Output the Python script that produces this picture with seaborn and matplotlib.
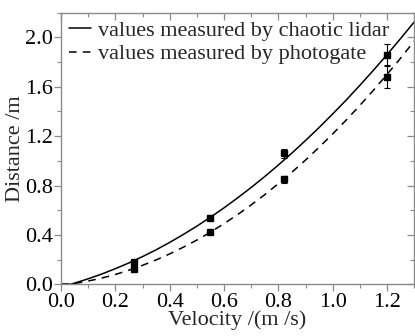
import matplotlib
matplotlib.use("Agg")
import matplotlib.pyplot as plt
import seaborn as sns
import pandas as pd
from matplotlib.ticker import MultipleLocator, FormatStrFormatter

# fitted curves
curve_x = [0.0, 0.035, 0.05, 0.1, 0.15, 0.2, 0.25, 0.3, 0.35, 0.4, 0.45, 0.5, 0.55, 0.6, 0.65,
           0.7, 0.75, 0.8, 0.85, 0.9, 0.95, 1.0, 1.05, 1.1, 1.15, 1.2, 1.25, 1.3]
lidar_curve = [0.0, 0.0, 0.0095, 0.044, 0.083, 0.126, 0.173, 0.224, 0.279, 0.339, 0.403, 0.471,
               0.543, 0.619, 0.700, 0.784, 0.873, 0.966, 1.063, 1.165, 1.270, 1.380, 1.493,
               1.612, 1.734, 1.860, 1.991, 2.125]
photo_curve = [0.0, 0.003, 0.006, 0.026, 0.050, 0.079, 0.114, 0.153, 0.197, 0.246, 0.300, 0.358,
               0.422, 0.491, 0.564, 0.643, 0.726, 0.815, 0.908, 1.006, 1.110, 1.218, 1.331,
               1.449, 1.572, 1.700, 1.832, 1.970]

# measured points
velocity = [0.27, 0.55, 0.82, 1.20]
lidar_pts = [0.18, 0.54, 1.06, 1.86]
lidar_err = [0.02, 0.02, 0.04, 0.085]
photo_pts = [0.12, 0.42, 0.85, 1.68]
photo_err = [0.012, 0.012, 0.03, 0.09]

labels = ["values measured by chaotic lidar", "values measured by photogate"]

sns.set_theme(style="white")
plt.rcParams['font.family'] = ['Liberation Serif', 'DejaVu Serif']

FS = 16
fig = plt.figure(figsize=(4.15, 3.36), dpi=100)
ax = fig.add_axes([0.147, 0.154, 0.851, 0.808])

df_l = pd.DataFrame({"x": curve_x, "y": lidar_curve})
df_p = pd.DataFrame({"x": curve_x, "y": photo_curve})
sns.lineplot(data=df_l, x="x", y="y", ax=ax, color="black", lw=1.1, label=labels[0], sort=False)
sns.lineplot(data=df_p, x="x", y="y", ax=ax, color="black", lw=1.1, label=labels[1],
             linestyle=(0, (5, 4)), sort=False)

ax.errorbar(velocity, lidar_pts, yerr=lidar_err, fmt="s", color="black", ms=3.8,
            elinewidth=0.8, capsize=2.5, capthick=0.8, zorder=5)
ax.errorbar(velocity, photo_pts, yerr=photo_err, fmt="s", color="black", ms=3.8,
            elinewidth=0.8, capsize=2.5, capthick=0.8, zorder=5)

ax.set_xlim(0, 1.3)
ax.set_ylim(0, 2.2)
ax.xaxis.set_major_locator(MultipleLocator(0.2))
ax.xaxis.set_minor_locator(MultipleLocator(0.1))
ax.yaxis.set_major_locator(MultipleLocator(0.4))
ax.yaxis.set_minor_locator(MultipleLocator(0.2))
ax.xaxis.set_major_formatter(FormatStrFormatter("%.1f"))
ax.yaxis.set_major_formatter(FormatStrFormatter("%.1f"))

gray = "#8a8a8a"
for s in ax.spines.values():
    s.set_color(gray)
    s.set_linewidth(1.0)
ax.tick_params(which="both", direction="out", color=gray, labelsize=FS, labelcolor="black",
               bottom=True, left=True, pad=1)
ax.tick_params(which="major", length=5, width=0.9)
ax.tick_params(which="minor", length=3, width=0.8)

secx = ax.secondary_xaxis("top")
secx.xaxis.set_major_locator(MultipleLocator(0.2))
secx.xaxis.set_minor_locator(MultipleLocator(0.1))
secx.tick_params(which="both", direction="in", color=gray, labeltop=False)
secx.tick_params(which="major", length=5, width=0.9)
secx.tick_params(which="minor", length=3, width=0.8)
secx.spines["top"].set_visible(False)
secy = ax.secondary_yaxis("right")
secy.yaxis.set_major_locator(MultipleLocator(0.4))
secy.yaxis.set_minor_locator(MultipleLocator(0.2))
secy.tick_params(which="both", direction="in", color=gray, labelright=False)
secy.tick_params(which="major", length=5, width=0.9)
secy.tick_params(which="minor", length=3, width=0.8)
secy.spines["right"].set_visible(False)

ax.set_xlabel("Velocity /(m /s)", fontsize=FS, labelpad=-1)
ax.set_ylabel("Distance /m", fontsize=FS, labelpad=-0.5)

leg = ax.legend(loc="upper left", frameon=False, fontsize=FS, handlelength=1.0,
                handletextpad=0.3, borderaxespad=0.0, borderpad=0.35, labelspacing=0.12,
                bbox_to_anchor=(0.0, 1.0))

fig.savefig("out.png", dpi=100, facecolor="white")
